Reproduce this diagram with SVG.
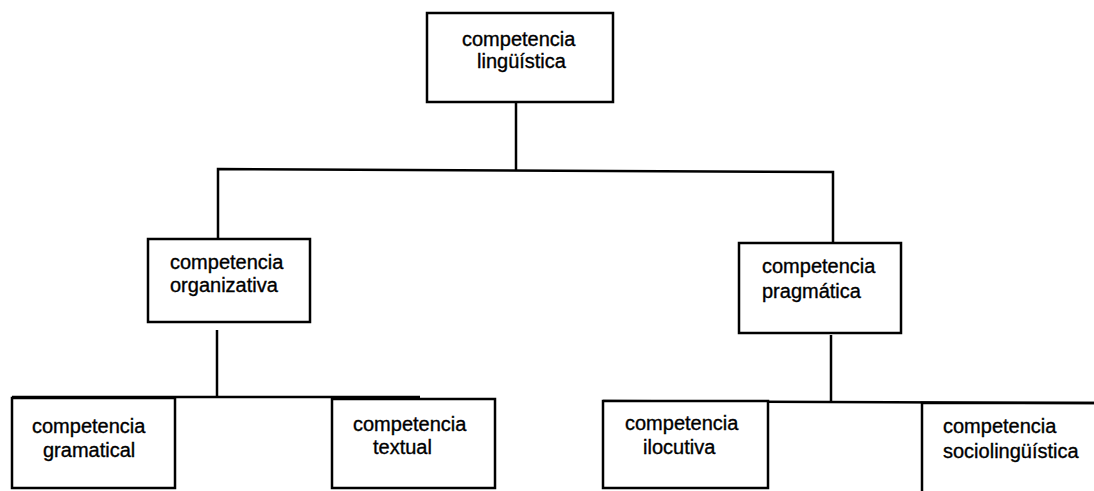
<svg xmlns="http://www.w3.org/2000/svg" width="1094" height="491" viewBox="0 0 1094 491">
<style>
.box{fill:#fff;stroke:#000;stroke-width:2.5}
.open{fill:none;stroke:#000;stroke-width:2.5}
.conn{fill:none;stroke:#000;stroke-width:2.5}
text{font-family:"Liberation Sans",Arial,sans-serif;font-size:20px;fill:#000;stroke:#000;stroke-width:0.35}
</style>
<rect width="1094" height="491" fill="#fff"/>
<g id="connectors">
<path class="conn" d="M516,102 V170"/>
<path class="conn" d="M218,239 V169 L833,172 V243"/>
<path class="conn" d="M217,330 V397"/>
<path class="conn" d="M12,397 H420"/>
<path class="conn" d="M831,335 V402"/>
<path class="conn" d="M603,401 L1094,403"/>
</g>
<g id="n-linguistica">
<rect class="box" x="427" y="13" width="186" height="89"/>
<text x="462" y="46">competencia</text>
<text x="477" y="68">lingüística</text>
</g>
<g id="n-organizativa">
<rect class="box" x="148" y="239" width="162" height="83"/>
<text x="170" y="269">competencia</text>
<text x="170" y="292">organizativa</text>
</g>
<g id="n-pragmatica">
<rect class="box" x="739" y="243" width="162" height="90"/>
<text x="762" y="273">competencia</text>
<text x="762" y="298">pragmática</text>
</g>
<g id="n-gramatical">
<rect class="box" x="12" y="398" width="163" height="90"/>
<text x="32" y="433">competencia</text>
<text x="43" y="457">gramatical</text>
</g>
<g id="n-textual">
<rect class="box" x="332" y="399" width="163" height="89"/>
<text x="353" y="431">competencia</text>
<text x="373" y="454">textual</text>
</g>
<g id="n-ilocutiva">
<rect class="box" x="603" y="401" width="165" height="87"/>
<text x="625" y="430">competencia</text>
<text x="643" y="454">ilocutiva</text>
</g>
<g id="n-sociolinguistica">
<path class="open" d="M922,491 V403 H1094"/>
<text x="943" y="433">competencia</text>
<text x="943" y="458">sociolingüística</text>
</g>
</svg>
